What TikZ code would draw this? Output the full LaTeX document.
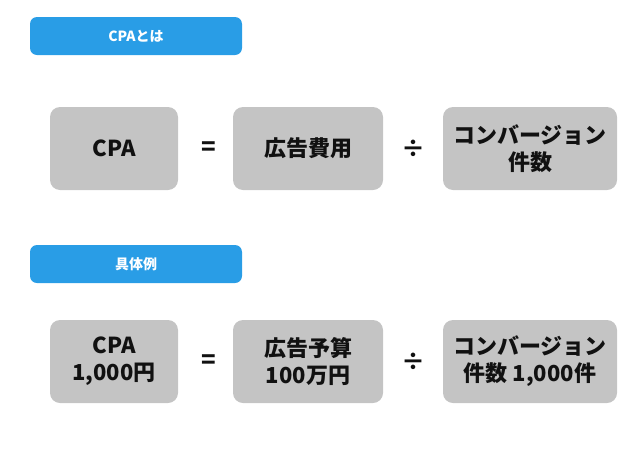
\documentclass[tikz,border=0pt]{standalone}
\usepackage{fontspec}
\usepackage{xcolor}
\usepackage{tikz}
\usetikzlibrary{positioning}
\setmainfont{Noto Sans CJK JP}
\definecolor{banner}{HTML}{299DE6}
\definecolor{cell}{HTML}{C4C4C4}
\definecolor{ink}{HTML}{111111}

\begin{document}
\begin{tikzpicture}[
  x=1pt, y=-1pt,
  every node/.style={font=\bfseries},
  tag/.style={fill=banner, text=white, rounded corners=7pt,
              minimum width=212pt, minimum height=38pt, font=\fontsize{14}{16}\selectfont\bfseries},
  term/.style={fill=cell, text=ink, rounded corners=10pt, minimum height=83pt,
               align=center, font=\fontsize{22}{27}\selectfont\bfseries},
  op/.style={text=ink, font=\fontsize{24}{28}\selectfont\bfseries}
]
  \useasboundingbox (0,0) rectangle (640,453);

  % definition
  \node[tag] (deftag) at (136,36) {CPAとは};
  \node[term, minimum width=128pt] (cpa)   at (114,148.5) {CPA};
  \node[term, minimum width=150pt] (cost)  at (308,148.5) {広告費用};
  \node[term, minimum width=174pt] (conv)  at (530,148.5) {コンバージョン\\件数};
  \node[op] (eq)  at (209,148.5) {=};
  \node[op] (div) at (413,148.5) {÷};

  % example
  \node[tag] (extag) at (136,264) {具体例};
  \node[term, minimum width=128pt] (excpa)  at (114,361.5) {CPA\\1,000円};
  \node[term, minimum width=150pt] (excost) at (308,361.5) {広告予算\\100万円};
  \node[term, minimum width=174pt] (exconv) at (530,361.5) {コンバージョン\\件数 1,000件};
  \node[op] (exeq)  at (209,361.5) {=};
  \node[op] (exdiv) at (413,361.5) {÷};
\end{tikzpicture}
\end{document}
